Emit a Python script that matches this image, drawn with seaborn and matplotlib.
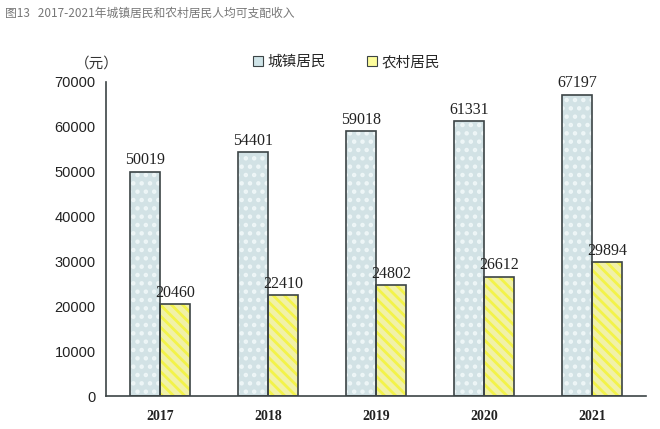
import seaborn as sns
import pandas as pd
import matplotlib.pyplot as plt
from matplotlib.patches import Patch

years = ['2017', '2018', '2019', '2020', '2021']
urban = [50019, 54401, 59018, 61331, 67197]
rural = [20460, 22410, 24802, 26612, 29894]
series = ['城镇居民', '农村居民']

df = pd.DataFrame({
    'year': years * 2,
    'group': [series[0]] * 5 + [series[1]] * 5,
    'value': urban + rural,
})

sns.set_style('white')
plt.rcParams['font.family'] = ['Noto Sans CJK SC', 'DejaVu Sans']
plt.rcParams['hatch.linewidth'] = 2.0

fig = plt.figure(figsize=(6.6, 4.29), dpi=100)
ax = fig.add_axes([0.1606, 0.0769, 0.8182, 0.732])

fills = {'城镇居民': '#cfe4e8', '农村居民': '#fdfd9c'}
hatch_cols = {'城镇居民': '#eef6f7', '农村居民': '#f3f34a'}
hatches = {'城镇居民': '..', '农村居民': '\\\\\\'}

# fill + hatch layer
sns.barplot(data=df, x='year', y='value', hue='group', hue_order=series,
            palette=fills, width=0.56, gap=0, linewidth=0, legend=False, ax=ax)
for cont, name in zip(ax.containers, series):
    for p in cont:
        p.set_hatch(hatches[name])
        p.set_edgecolor(hatch_cols[name])
        p.set_linewidth(0)

# outline layer
sns.barplot(data=df, x='year', y='value', hue='group', hue_order=series,
            fill=False, width=0.56, gap=0, linewidth=1.2, edgecolor='#3c4446',
            legend=False, ax=ax)

# value labels
for cont in ax.containers[:2]:
    for p in cont:
        ax.text(p.get_x() + p.get_width() / 2, p.get_height() + 700,
                f'{int(round(p.get_height()))}', ha='center', va='bottom',
                fontsize=11.5, family='Liberation Serif', color='#222222')

ax.set_ylim(0, 70000)
ax.set_xlim(-0.5, 4.5)
ax.set_yticks(range(0, 70001, 10000))
ax.set_yticklabels([str(v) for v in range(0, 70001, 10000)],
                   fontsize=10.5, family='Liberation Sans', color='#222222')
ax.set_xticks([i for i in range(5)])
ax.set_xticklabels(years, fontsize=10, family='Liberation Serif',
                   fontweight='bold', color='#222222')
ax.tick_params(axis='x', length=0, pad=10)
ax.tick_params(axis='y', length=4, direction='out', color='#3c4446')
# boundary ticks on x axis
ax.set_xticks([i + 0.5 for i in range(4)] + [4.5], minor=True)
ax.tick_params(axis='x', which='minor', length=4, direction='in', color='#3c4446')
ax.set_xlabel('')
ax.set_ylabel('')

for s in ['top', 'right']:
    ax.spines[s].set_visible(False)
for s in ['left', 'bottom']:
    ax.spines[s].set_color('#3c4446')
    ax.spines[s].set_linewidth(1.2)

ax.text(-0.017, 1.035, '（元）', transform=ax.transAxes, ha='center', va='bottom',
        fontsize=10.5, color='#333333')

handles = [Patch(facecolor=fills[s], edgecolor='#3c4446', linewidth=0.8) for s in series]
fig.legend(handles, series, loc='center', bbox_to_anchor=(0.525, 0.855), ncol=2,
           frameon=False, fontsize=10.5, handlelength=0.7, handleheight=0.7,
           handletextpad=0.3, columnspacing=2.8)

fig.text(0.008, 0.985, '图13   2017-2021年城镇居民和农村居民人均可支配收入',
         ha='left', va='top', fontsize=8.5, color='#777777')

fig.savefig('out.png', dpi=100)
